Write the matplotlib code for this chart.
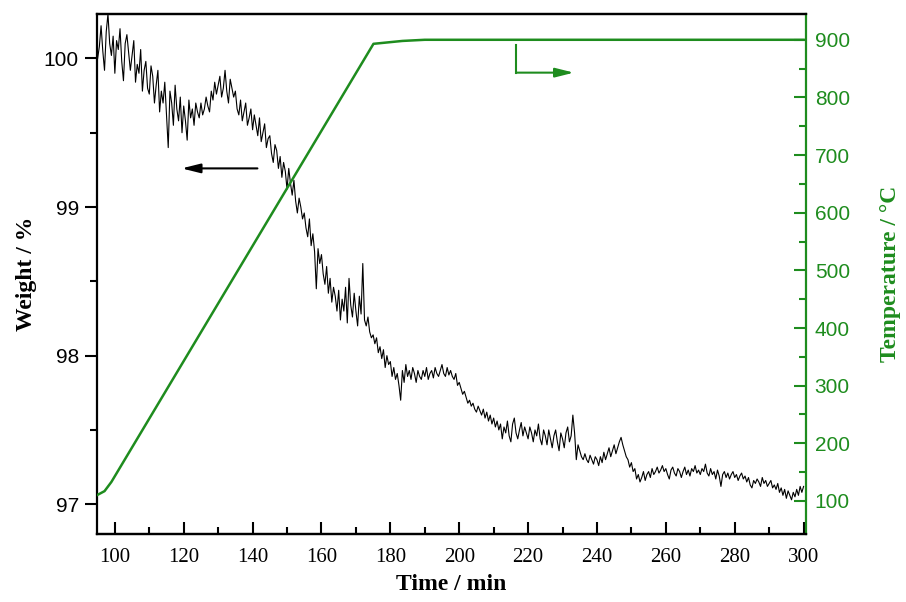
import numpy as np
import matplotlib
matplotlib.use('Agg')
import matplotlib.pyplot as plt

# Gewicht (%), every half minute from 95 to 300 min
time_w = np.arange(95, 300.01, 0.5)
weight = [
    100.00, 100.08, 100.22, 100.05, 99.92, 100.18, 100.30, 100.10, 100.02, 100.15,
    99.90, 100.12, 100.06, 100.20, 99.98, 99.85, 100.10, 100.16, 100.04, 99.92,
    100.02, 100.12, 99.84, 99.96, 99.90, 100.06, 99.78, 99.92, 99.98, 99.80,
    99.76, 99.95, 99.88, 99.70, 99.82, 99.92, 99.64, 99.78, 99.70, 99.84,
    99.62, 99.40, 99.78, 99.70, 99.55, 99.82, 99.66, 99.58, 99.74, 99.50,
    99.68, 99.58, 99.45, 99.72, 99.60, 99.66, 99.55, 99.70, 99.64, 99.60,
    99.70, 99.62, 99.66, 99.74, 99.68, 99.64, 99.78, 99.72, 99.84, 99.76,
    99.82, 99.88, 99.74, 99.80, 99.92, 99.78, 99.70, 99.86, 99.80, 99.74,
    99.78, 99.66, 99.62, 99.72, 99.58, 99.64, 99.70, 99.55, 99.60, 99.66,
    99.52, 99.62, 99.55, 99.48, 99.60, 99.44, 99.50, 99.56, 99.40, 99.46,
    99.48, 99.36, 99.30, 99.42, 99.38, 99.26, 99.34, 99.20, 99.30, 99.24,
    99.12, 99.26, 99.16, 99.08, 99.18, 99.04, 98.96, 99.06, 99.00, 98.92,
    98.96, 98.86, 98.80, 98.92, 98.74, 98.82, 98.70, 98.45, 98.72, 98.62,
    98.68, 98.55, 98.48, 98.60, 98.42, 98.52, 98.36, 98.46, 98.40, 98.30,
    98.44, 98.24, 98.38, 98.30, 98.46, 98.22, 98.52, 98.34, 98.26, 98.42,
    98.30, 98.20, 98.40, 98.28, 98.62, 98.24, 98.20, 98.26, 98.16, 98.12,
    98.14, 98.08, 98.12, 98.02, 98.06, 97.98, 98.04, 97.92, 98.00, 97.94,
    97.96, 97.86, 97.92, 97.84, 97.88, 97.80, 97.70, 97.90, 97.82, 97.94,
    97.86, 97.90, 97.84, 97.92, 97.88, 97.82, 97.90, 97.86, 97.84, 97.90,
    97.86, 97.92, 97.84, 97.88, 97.90, 97.85, 97.92, 97.88, 97.86, 97.90,
    97.94, 97.88, 97.86, 97.92, 97.87, 97.90, 97.86, 97.84, 97.88, 97.80,
    97.82, 97.78, 97.74, 97.76, 97.72, 97.68, 97.70, 97.66, 97.68, 97.64,
    97.62, 97.66, 97.63, 97.60, 97.64, 97.58, 97.62, 97.56, 97.60, 97.54,
    97.58, 97.52, 97.56, 97.50, 97.54, 97.44, 97.52, 97.48, 97.56, 97.46,
    97.42, 97.54, 97.58, 97.48, 97.44, 97.50, 97.55, 97.46, 97.52, 97.48,
    97.44, 97.52, 97.48, 97.42, 97.50, 97.46, 97.54, 97.44, 97.40, 97.50,
    97.46, 97.40, 97.50, 97.44, 97.38, 97.46, 97.50, 97.42, 97.36, 97.48,
    97.44, 97.38, 97.48, 97.52, 97.42, 97.46, 97.60, 97.48, 97.30, 97.40,
    97.36, 97.32, 97.30, 97.34, 97.30, 97.28, 97.33, 97.30, 97.27, 97.32,
    97.30, 97.26, 97.32, 97.28, 97.35, 97.30, 97.34, 97.38, 97.32, 97.36,
    97.40, 97.34, 97.38, 97.42, 97.45, 97.40, 97.36, 97.32, 97.30, 97.25,
    97.28, 97.22, 97.24, 97.17, 97.20, 97.15, 97.18, 97.22, 97.16, 97.20,
    97.22, 97.18, 97.24, 97.20, 97.22, 97.25, 97.21, 97.23, 97.26, 97.22,
    97.24, 97.20, 97.17, 97.23, 97.25, 97.21, 97.19, 97.24, 97.22, 97.18,
    97.22, 97.25, 97.20, 97.23, 97.19, 97.24, 97.22, 97.26, 97.21, 97.23,
    97.20, 97.24, 97.22, 97.27, 97.21, 97.19, 97.24, 97.20, 97.22, 97.17,
    97.23, 97.19, 97.12, 97.20, 97.22, 97.18, 97.21, 97.17, 97.20, 97.22,
    97.18, 97.20, 97.16, 97.19, 97.21, 97.17, 97.19, 97.15, 97.18, 97.13,
    97.11, 97.16, 97.14, 97.17, 97.15, 97.12, 97.18, 97.14, 97.16, 97.12,
    97.14, 97.16, 97.11, 97.13, 97.10, 97.14, 97.08, 97.11, 97.06, 97.10,
    97.04, 97.09, 97.06, 97.03, 97.08, 97.05, 97.10, 97.06, 97.12, 97.08,
    97.12,
]

# Temperaturprogram
time_T = [94.8, 97.0, 99.0, 175.1, 183.5, 190.0, 300.0]
temp = [110, 117, 133, 893, 898, 900, 900]

green = '#1e8c1e'
serif = 'Liberation Serif'
sans = 'Liberation Sans'

fig = plt.figure(figsize=(9.06, 6.02), dpi=100)
ax1 = fig.add_axes([0.107, 0.113, 0.783, 0.864])
ax2 = ax1.twinx()

ax1.plot(time_w, weight, color='black', lw=0.8)
ax2.plot(time_T, temp, color=green, lw=1.8)

ax1.set_xlim(94.8, 300.8)
ax1.set_ylim(96.80, 100.30)
ax2.set_ylim(42.7, 945)

ax1.set_xticks(np.arange(100, 301, 20))
ax1.set_xticks(np.arange(110, 300, 20), minor=True)
ax1.set_yticks([97, 98, 99, 100])
ax1.set_yticks([97.5, 98.5, 99.5], minor=True)
ax2.set_yticks(np.arange(100, 901, 100))
ax2.set_yticks(np.arange(150, 900, 100), minor=True)

for lbl in ax1.get_xticklabels():
    lbl.set_fontfamily(serif)
    lbl.set_fontsize(15)
for lbl in ax1.get_yticklabels():
    lbl.set_fontfamily(sans)
    lbl.set_fontsize(15)
for lbl in ax2.get_yticklabels():
    lbl.set_fontfamily(sans)
    lbl.set_fontsize(15)
    lbl.set_color(green)

ax1.tick_params(axis='x', direction='in', length=9, width=1.5, pad=10, top=False)
ax1.tick_params(axis='x', which='minor', direction='in', length=5, width=1.5)
ax1.tick_params(axis='y', direction='out', length=9, width=1.5, pad=4)
ax1.tick_params(axis='y', which='minor', direction='out', length=5, width=1.5)
ax2.tick_params(axis='y', direction='in', length=9, width=1.5, color=green, pad=6)
ax2.tick_params(axis='y', which='minor', direction='in', length=5, width=1.5, color=green)

for ax in (ax1, ax2):
    for s in ax.spines.values():
        s.set_linewidth(1.6)
ax2.spines['right'].set_color(green)
ax1.spines['right'].set_visible(False)
ax2.spines['left'].set_visible(False)

ax1.set_xlabel('Time / min', fontfamily=serif, fontweight='bold', fontsize=17, labelpad=5)
ax1.set_ylabel('Weight / %', fontfamily=serif, fontweight='bold', fontsize=17, labelpad=5)
ax2.set_ylabel('Temperature / °C', fontfamily=serif, fontweight='bold', fontsize=17,
               color=green, labelpad=22)

# Pfeile
ax1.annotate('', xy=(119.4, 99.26), xytext=(141.4, 99.26),
             arrowprops=dict(arrowstyle='-|>,head_length=0.8,head_width=0.2',
                             mutation_scale=14, color='black', lw=1.5,
                             shrinkA=0, shrinkB=0))
ax2.plot([216.5, 216.5], [891, 843], color=green, lw=1.5)
ax2.annotate('', xy=(233.3, 843), xytext=(216.5, 843),
             arrowprops=dict(arrowstyle='-|>,head_length=0.8,head_width=0.2',
                             mutation_scale=14, color=green, lw=1.5,
                             shrinkA=0, shrinkB=0))

fig.savefig('out.png', dpi=100)
